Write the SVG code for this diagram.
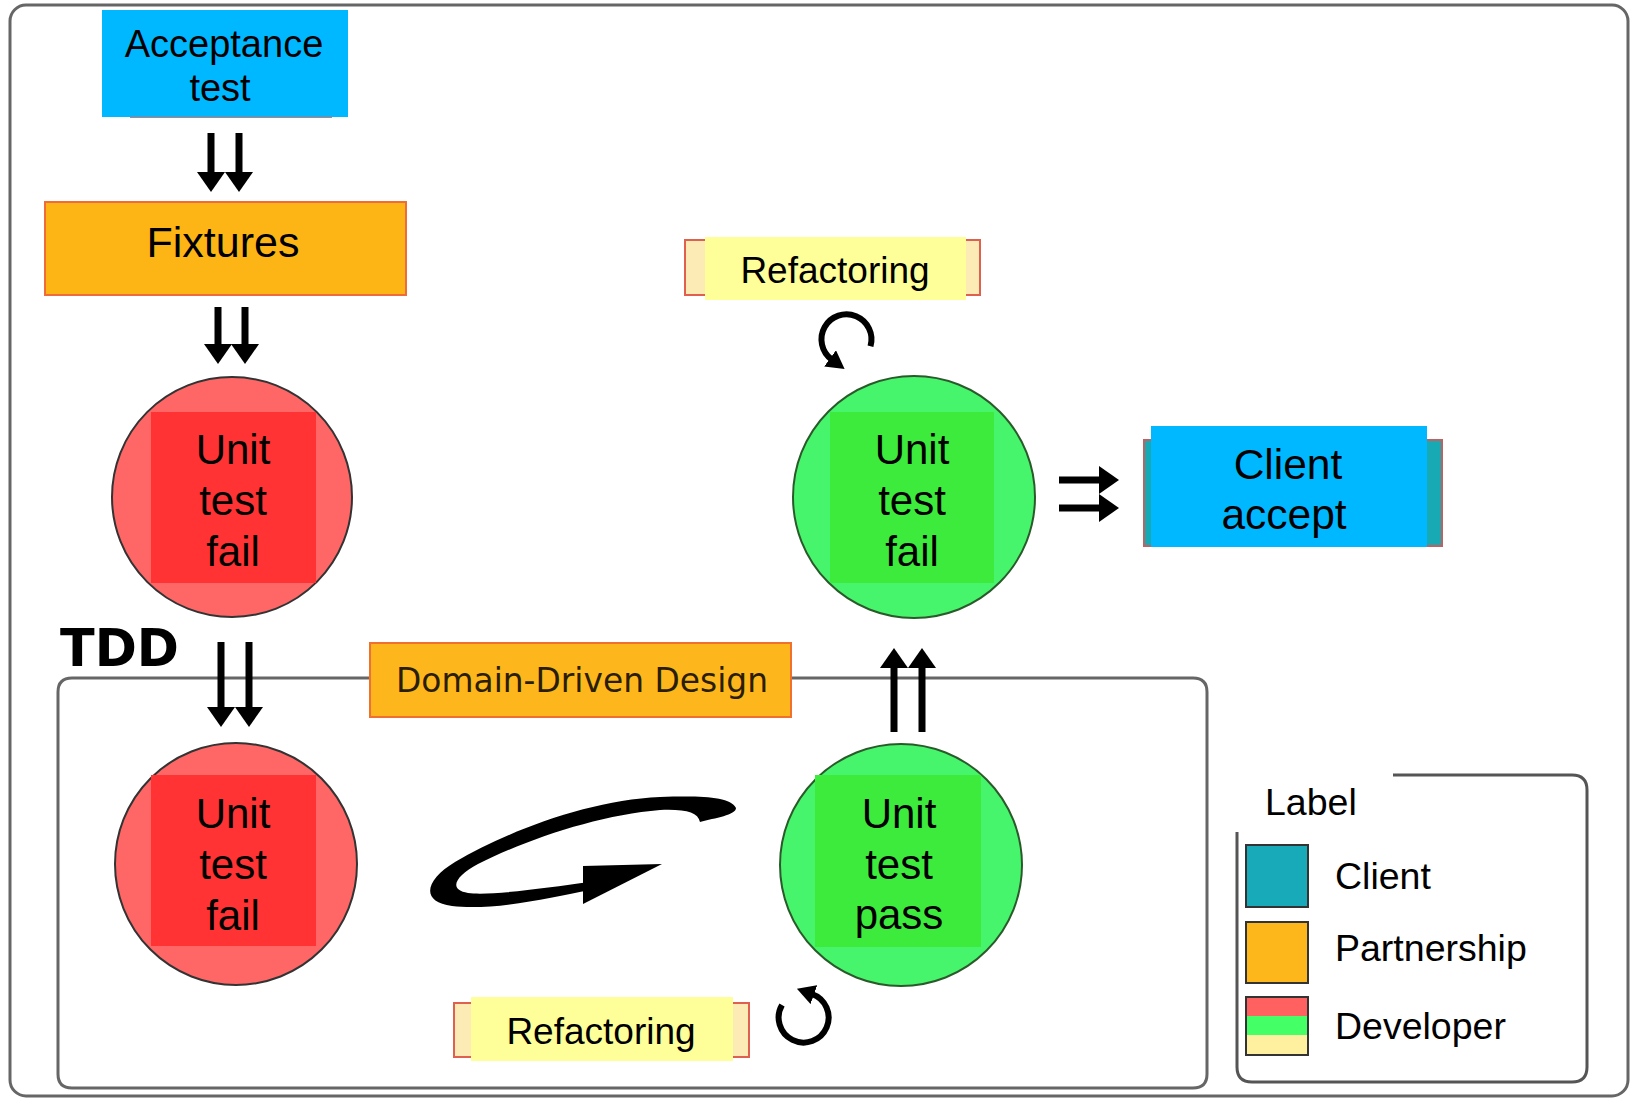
<svg xmlns="http://www.w3.org/2000/svg" width="1632" height="1101" viewBox="0 0 1632 1101">
<defs>
<style>
.t{font-family:"Liberation Sans",Arial,sans-serif;fill:#000;text-anchor:middle}
.lt{font-family:"Liberation Sans",Arial,sans-serif;fill:#000;font-size:37.5px}
.ct{font-size:42px}
.rc{fill:#FF6666;stroke:#333;stroke-width:2}
.ri{fill:#FF3333}
.gc{fill:#46F56C;stroke:#2a5a2a;stroke-width:2}
.gi{fill:#3DEB3D}
.sh{stroke:#000;stroke-width:7;fill:none}
.frame{fill:none;stroke:#666;stroke-width:3}
.refo{fill:#FDEBB5;stroke:#E06050;stroke-width:2}
.refi{fill:#FFFF99}
.rot{fill:none;stroke:#000;stroke-width:6}
</style>
<marker id="ah" viewBox="0 0 20 28" refX="0" refY="14" markerWidth="20" markerHeight="28" markerUnits="userSpaceOnUse" orient="auto">
<path d="M0,0 L20,14 L0,28 Z" fill="#000"/>
</marker>
<marker id="rh" viewBox="0 0 18 20" refX="2" refY="10" markerWidth="18" markerHeight="20" markerUnits="userSpaceOnUse" orient="auto">
<path d="M0,0 L18,10 L0,20 Z" fill="#000"/>
</marker>
</defs>
<rect x="0" y="0" width="1632" height="1101" fill="#fff"/>
<rect class="frame" x="10" y="5" width="1618" height="1091" rx="16"/>
<path id="tdd-box" class="frame" d="M370 678 L72 678 Q58 678 58 692 L58 1074 Q58 1088 72 1088 L1193 1088 Q1207 1088 1207 1074 L1207 692 Q1207 678 1193 678 L791 678" stroke="#555"/>
<text x="60" y="666" font-family="DejaVu Sans,Verdana,sans-serif" font-weight="bold" font-size="52" textLength="119" lengthAdjust="spacingAndGlyphs">TDD</text>

<g id="acceptance-test">
<line x1="130" y1="117" x2="332" y2="117" stroke="#E07060" stroke-width="2"/>
<rect x="102" y="10" width="246" height="107" fill="#00B8FF"/>
<text class="t" x="224" y="57" font-size="38">Acceptance</text>
<text class="t" x="220" y="101" font-size="38">test</text>
</g>
<g id="fixtures">
<rect x="45" y="202" width="361" height="93" fill="#FDB515" stroke="#F06B3A" stroke-width="2"/>
<text class="t" x="223" y="257" font-size="43">Fixtures</text>
</g>
<g id="unit-fail-1">
<circle class="rc" cx="232" cy="497" r="120"/>
<rect class="ri" x="151" y="412" width="165" height="171"/>
<text class="t ct" x="233" y="464">Unit</text>
<text class="t ct" x="233" y="515">test</text>
<text class="t ct" x="233" y="566">fail</text>
</g>
<g id="unit-fail-2">
<circle class="rc" cx="236" cy="864" r="121"/>
<rect class="ri" x="151" y="775" width="165" height="171"/>
<text class="t ct" x="233" y="828">Unit</text>
<text class="t ct" x="233" y="879">test</text>
<text class="t ct" x="233" y="930">fail</text>
</g>
<g id="unit-fail-green">
<circle class="gc" cx="914" cy="497" r="121"/>
<rect class="gi" x="830" y="412" width="164" height="171"/>
<text class="t ct" x="912" y="464">Unit</text>
<text class="t ct" x="912" y="515">test</text>
<text class="t ct" x="912" y="566">fail</text>
</g>
<g id="unit-pass">
<circle class="gc" cx="901" cy="865" r="121"/>
<rect class="gi" x="815" y="775" width="166" height="172"/>
<text class="t ct" x="899" y="828">Unit</text>
<text class="t ct" x="899" y="879">test</text>
<text class="t ct" x="899" y="929">pass</text>
</g>
<g id="client-accept">
<rect x="1144" y="440" width="298" height="106" fill="#18AAB4" stroke="#C06060" stroke-width="2"/>
<rect x="1151" y="426" width="276" height="121" fill="#00B8FF"/>
<text class="t" x="1288" y="479" font-size="42.5">Client</text>
<text class="t" x="1284" y="529" font-size="42.5">accept</text>
</g>
<g id="refactoring-top">
<rect class="refo" x="685" y="240" width="295" height="55"/>
<rect class="refi" x="705" y="237" width="261" height="63"/>
<text class="t" x="835" y="283" font-size="37">Refactoring</text>
</g>
<g id="refactoring-bottom">
<rect class="refo" x="454" y="1003" width="295" height="54"/>
<rect class="refi" x="471" y="997" width="262" height="64"/>
<text class="t" x="601" y="1044" font-size="37">Refactoring</text>
</g>
<g id="domain-driven-design">
<rect x="370" y="643" width="421" height="74" fill="#FDB71C" stroke="#F07030" stroke-width="2"/>
<text x="582" y="692" font-family="DejaVu Sans,Verdana,sans-serif" font-size="33" fill="#2a1d00" text-anchor="middle" textLength="372" lengthAdjust="spacingAndGlyphs">Domain-Driven Design</text>
</g>
<g id="legend">
<path d="M1393 775 L1572 775 Q1587 775 1587 790 L1587 1067 Q1587 1082 1572 1082 L1252 1082 Q1237 1082 1237 1067 L1237 832" fill="none" stroke="#555" stroke-width="3"/>
<text class="lt" x="1265" y="815">Label</text>
<rect x="1246" y="845" width="62" height="62" fill="#18AAB8" stroke="#333" stroke-width="2"/>
<rect x="1246" y="922" width="62" height="61" fill="#FDB71A" stroke="#333" stroke-width="2"/>
<rect x="1246" y="997" width="62" height="19" fill="#FF6060"/>
<rect x="1246" y="1016" width="62" height="19" fill="#44FF66"/>
<rect x="1246" y="1035" width="62" height="20" fill="#FFF0A0"/>
<rect x="1246" y="997" width="62" height="58" fill="none" stroke="#333" stroke-width="2"/>
<text class="lt" x="1335" y="889">Client</text>
<text class="lt" x="1335" y="961">Partnership</text>
<text class="lt" x="1335" y="1039">Developer</text>
</g>
<g id="connectors">
<line class="sh" x1="211" y1="133" x2="211" y2="172" marker-end="url(#ah)"/>
<line class="sh" x1="239" y1="133" x2="239" y2="172" marker-end="url(#ah)"/>
<line class="sh" x1="218" y1="307" x2="218" y2="344" marker-end="url(#ah)"/>
<line class="sh" x1="245" y1="307" x2="245" y2="344" marker-end="url(#ah)"/>
<line class="sh" x1="221" y1="642" x2="221" y2="707" marker-end="url(#ah)"/>
<line class="sh" x1="249" y1="642" x2="249" y2="707" marker-end="url(#ah)"/>
<line class="sh" x1="894" y1="732" x2="894" y2="668" marker-end="url(#ah)"/>
<line class="sh" x1="922" y1="732" x2="922" y2="668" marker-end="url(#ah)"/>
<line class="sh" x1="1059" y1="480" x2="1099" y2="480" marker-end="url(#ah)"/>
<line class="sh" x1="1059" y1="508" x2="1099" y2="508" marker-end="url(#ah)"/>
<path class="rot" d="M870.5 346.2 A25 25 0 1 0 831.7 359.5" marker-end="url(#rh)"/>
<path class="rot" d="M782 1005 A25 25 0 1 0 812 994" marker-end="url(#rh)"/>
<path d="M736 808 C730 796 700 796 660 797 C590 800 510 830 455 862 C425 880 420 902 452 906 C492 911 550 898 590 890 L590 882 C545 888 490 896 468 893 C448 890 455 876 478 864 C530 838 600 815 660 810 C685 809 698 812 700 822 C715 818 736 815 736 808 Z" fill="#000"/>
<path d="M583 866 L662 864 L583 904 Z" fill="#000"/>
</g>
</svg>
